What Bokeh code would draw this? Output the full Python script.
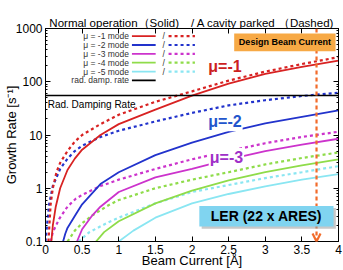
import math

from bokeh.embed import file_html
from bokeh.models import (Arrow, BoxAnnotation, CustomJSTickFormatter,
                          FixedTicker, Label, LinearAxis, LogAxis, OpenHead, Span)
from bokeh.plotting import figure
from bokeh.resources import INLINE

# ---- growth rate of the longitudinal coupled-bunch modes vs. beam current ----
# normal operation (solid)
mu1_I = [0.08, 0.10, 0.14, 0.2, 0.3, 0.4, 0.5, 0.75, 1.0, 1.5, 2.0, 2.5, 3.0, 3.5, 4.0]
mu1_rate = [0.1, 0.2, 0.45, 1.0, 2.2, 3.6, 5.3, 10, 16, 30, 55, 92, 140, 190, 250]
mu2_I = [0.24, 0.27, 0.3, 0.4, 0.5, 0.75, 1.0, 1.5, 2.0, 2.5, 3.0, 3.5, 4.0]
mu2_rate = [0.1, 0.14, 0.18, 0.3, 0.5, 1.2, 2.0, 4.2, 7.2, 11.5, 16.5, 22, 29]
mu3_I = [0.43, 0.5, 0.64, 0.75, 1.0, 1.5, 2.0, 2.5, 3.0, 3.5, 4.0]
mu3_rate = [0.1, 0.17, 0.31, 0.45, 0.85, 1.6, 2.3, 3.5, 5.0, 6.6, 8.5]
mu4_I = [0.69, 0.8, 1.0, 1.5, 2.0, 2.5, 3.0, 3.5, 4.0]
mu4_rate = [0.1, 0.15, 0.24, 0.52, 0.9, 1.4, 2.0, 2.7, 3.5]
mu5_I = [1.0, 1.2, 1.5, 2.0, 2.5, 3.0, 3.5, 4.0]
mu5_rate = [0.1, 0.16, 0.28, 0.52, 0.78, 1.08, 1.45, 1.85]

# one cavity parked (dashed)
mu1p_I = [0.04, 0.07, 0.1, 0.15, 0.2, 0.3, 0.4, 0.5, 0.75, 1.0, 1.5, 2.0, 2.5, 3.0, 3.5, 4.0]
mu1p_rate = [0.1, 0.5, 1.0, 2.0, 3.0, 5.0, 7.5, 10, 16, 24, 42, 66, 105, 155, 215, 290]
mu2p_I = [0.0, 0.02, 0.05, 0.1, 0.2, 0.3, 0.4, 0.5, 0.75, 1.0, 1.5, 2.0, 2.5, 3.0, 3.5, 4.0]
mu2p_rate = [0.1, 0.2, 0.5, 1.1, 2.3, 3.6, 5.0, 6.3, 9.2, 12, 18, 26, 36, 45, 54, 62]
mu3p_I = [0.07, 0.1, 0.19, 0.3, 0.41, 0.5, 0.75, 1.0, 1.5, 2.0, 2.5, 3.0, 3.5, 4.0]
mu3p_rate = [0.1, 0.15, 0.27, 0.45, 0.63, 0.75, 1.1, 1.45, 2.3, 3.5, 5.0, 7.0, 9.2, 11.5]
mu4p_I = [0.3, 0.4, 0.5, 0.64, 0.86, 1.0, 1.5, 2.0, 2.5, 3.0, 3.5, 4.0]
mu4p_rate = [0.1, 0.16, 0.22, 0.31, 0.48, 0.6, 1.0, 1.45, 2.0, 2.8, 3.7, 4.7]
mu5p_I = [0.45, 0.6, 0.86, 1.0, 1.5, 2.0, 2.5, 3.0, 3.5, 4.0]
mu5p_rate = [0.1, 0.15, 0.23, 0.28, 0.52, 0.85, 1.15, 1.55, 2.0, 2.6]

rad_damp_rate = 55.0        # radiation damping rate [1/s]
design_current = 3.7        # LER design beam current [A]

x_ticks = [0, 0.5, 1, 1.5, 2, 2.5, 3, 3.5, 4]
y_ticks = [0.1, 1, 10, 100, 1000]
y_minor = [m * 10.0 ** e for e in range(-1, 3) for m in range(2, 10)]

X0, X1 = 0.0, 4.0
Y0, Y1 = 0.1, 1000.0

RED, BLUE, MAG, GRN, CYN = "#d82222", "#2233cc", "#cc33cc", "#8fdc4a", "#8ae6f2"
ORANGE_LINE, ORANGE_BOX = "#f26b2a", "#f7a945"
FONT = "Liberation Sans"

p = figure(width=343, height=270, x_range=(X0, X1), y_range=(Y0, Y1),
           y_axis_type="log", output_backend="svg", toolbar_location=None,
           min_border_left=43, min_border_right=5, min_border_top=28,
           min_border_bottom=27)
p.grid.visible = False
p.outline_line_color = "black"
p.outline_line_width = 1
p.background_fill_color = "white"

p.title.text = "Normal operation（Solid)\u3000/ A cavity parked （Dashed)"
p.title.text_font = FONT
p.title.text_font_size = "11.5px"
p.title.text_font_style = "normal"
p.title.text_color = "black"
p.title.align = "center"
p.title.standoff = 0
p.title.offset = 0

xfmt = CustomJSTickFormatter(code="return String(tick)")
yfmt = CustomJSTickFormatter(code="return String(Math.round(tick * 10) / 10)")
blank = CustomJSTickFormatter(code="return ''")


def style_axis(ax, labels=True, label_standoff=0):
    ax.axis_line_color = "black"
    ax.major_tick_in = 5
    ax.major_tick_out = 0
    ax.minor_tick_in = 2
    ax.minor_tick_out = 0
    ax.major_tick_line_color = "black"
    ax.minor_tick_line_color = "black"
    if labels:
        ax.major_label_text_font = FONT
        ax.major_label_text_font_size = "12px"
        ax.major_label_text_color = "black"
        ax.major_label_standoff = 3
        ax.axis_label_text_font = FONT
        ax.axis_label_text_font_size = "13px"
        ax.axis_label_text_font_style = "normal"
        ax.axis_label_text_color = "black"
        ax.axis_label_standoff = label_standoff
    else:
        ax.formatter = blank
        ax.major_label_text_font_size = "1px"
        ax.major_label_standoff = 0


xt = FixedTicker(ticks=x_ticks, minor_ticks=[])
yt = FixedTicker(ticks=y_ticks, minor_ticks=y_minor)

p.xaxis.ticker = xt
p.xaxis.formatter = xfmt
p.xaxis.axis_label = "Beam Current [Å]"
style_axis(p.xaxis[0], label_standoff=-4)
p.yaxis.ticker = yt
p.yaxis.formatter = yfmt
p.yaxis.axis_label = "Growth Rate [s⁻¹]"
style_axis(p.yaxis[0], label_standoff=-6)

top_ax = LinearAxis(ticker=xt)
style_axis(top_ax, labels=False)
p.add_layout(top_ax, "above")
right_ax = LogAxis(ticker=yt)
style_axis(right_ax, labels=False)
p.add_layout(right_ax, "right")

# ---- curves ----
SOLID_W, DASH_W, DASH = 1.8, 2.2, "3 3"
series = [
    (mu1_I, mu1_rate, mu1p_I, mu1p_rate, RED),
    (mu2_I, mu2_rate, mu2p_I, mu2p_rate, BLUE),
    (mu3_I, mu3_rate, mu3p_I, mu3p_rate, MAG),
    (mu4_I, mu4_rate, mu4p_I, mu4p_rate, GRN),
    (mu5_I, mu5_rate, mu5p_I, mu5p_rate, CYN),
]
for xs, ys, xps, yps, col in reversed(series):
    p.line(xps, yps, line_color=col, line_width=DASH_W, line_dash=DASH)
    p.line(xs, ys, line_color=col, line_width=SOLID_W)

p.add_layout(Span(location=rad_damp_rate, dimension="width",
                  line_color="black", line_width=1.5))


# ---- legend (text on the left, solid / dashed samples on the right) ----
def at(fx, fy):
    """Frame fractions (from left, from top) -> data coordinates."""
    x = X0 + fx * (X1 - X0)
    ly = math.log10(Y1) - fy * (math.log10(Y1) - math.log10(Y0))
    return x, 10 ** ly


legend_names = ["μ = -1 mode", "μ = -2 mode", "μ = -3 mode", "μ = -4 mode",
                "μ = -5 mode", "rad. damp. rate"]
legend_cols = [RED, BLUE, MAG, GRN, CYN, "black"]
row0, row_step = 0.036, 0.0415
for i, (name, col) in enumerate(zip(legend_names, legend_cols)):
    fy = row0 + i * row_step
    tx, ty = at(0.285, fy)
    p.add_layout(Label(x=tx, y=ty, text=name, text_align="right",
                       text_baseline="middle", text_font=FONT,
                       text_font_size="8.5px", text_color="#333333"))
    (sx0, sy), (sx1, _) = at(0.295, fy), at(0.376, fy)
    p.line([sx0, sx1], [sy, sy], line_color=col, line_width=SOLID_W)
    if col != "black":
        sx, _ = at(0.403, fy)
        p.add_layout(Label(x=sx, y=ty, text="/", text_align="center",
                           text_baseline="middle", text_font=FONT,
                           text_font_size="8.5px", text_color="#333333"))
        (dx0, dy), (dx1, _) = at(0.42, fy), at(0.51, fy)
        p.line([dx0, dx1], [dy, dy], line_color=col, line_width=DASH_W,
               line_dash=DASH)

p.add_layout(Label(x=0.03, y=rad_damp_rate, y_offset=-3, text="Rad. Damping Rate",
                   text_align="left", text_baseline="top", text_font=FONT,
                   text_font_size="10px", text_color="black"))

# ---- mode labels ----
for txt, lx, ly, col in [("μ=-1", 2.45, 196, "#cc1f1f"),
                         ("μ=-2", 2.45, 17.8, "#2255cc"),
                         ("μ=-3", 2.47, 3.8, "#a030c8")]:
    p.add_layout(Label(x=lx, y=ly, text=txt, text_align="center",
                       text_baseline="middle", text_font=FONT,
                       text_font_size="16px", text_font_style="bold",
                       text_color=col, background_fill_color="white",
                       padding=1))

# ---- design beam current marker ----
p.add_layout(Arrow(x_start=design_current, y_start=Y1, x_end=design_current,
                   y_end=Y0, line_color=ORANGE_LINE, line_width=2.2,
                   line_dash="4 3",
                   end=OpenHead(size=8, line_color=ORANGE_LINE, line_width=2.2)))

(bl, bt), (br, bb) = at(0.644, 0.023), at(0.990, 0.107)
p.add_layout(BoxAnnotation(left=bl, right=br, top=bt, bottom=bb,
                           fill_color=ORANGE_BOX, fill_alpha=1.0,
                           line_color=None, level="annotation"))
p.add_layout(Label(x=(bl + br) / 2, y=math.sqrt(bt * bb), text="Design Beam Current",
                   text_align="center", text_baseline="middle", text_font=FONT,
                   text_font_size="9px", text_font_style="bold", text_color="black"))

(ll, lt), (lr, lb) = at(0.525, 0.833), at(0.983, 0.930)
(sl, st), (sr, sb) = at(0.533, 0.843), at(0.991, 0.940)
p.add_layout(BoxAnnotation(left=sl, right=sr, top=st, bottom=sb,
                           fill_color="#9a9a9a", fill_alpha=0.55,
                           line_color=None, level="annotation"))
p.add_layout(BoxAnnotation(left=ll, right=lr, top=lt, bottom=lb,
                           fill_color="#80d4f0", fill_alpha=1.0,
                           line_color=None, level="annotation"))
p.add_layout(Label(x=(ll + lr) / 2, y=math.sqrt(lt * lb), text="LER (22 x ARES)",
                   text_align="center", text_baseline="middle", text_font=FONT,
                   text_font_size="14px", text_font_style="bold", text_color="black"))

open("out.html", "w").write(file_html(p, INLINE))
